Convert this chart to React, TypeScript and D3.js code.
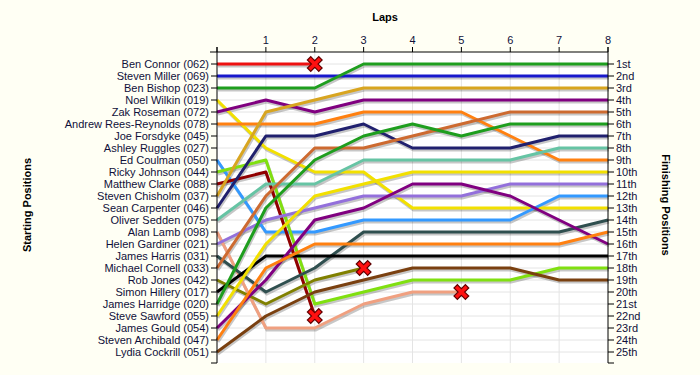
import React from "react";
import * as d3 from "d3";

const drivers = [
  "Ben Connor (062)", "Steven Miller (069)", "Ben Bishop (023)", "Noel Wilkin (019)",
  "Zak Roseman (072)", "Andrew Rees-Reynolds (078)", "Joe Forsdyke (045)", "Ashley Ruggles (027)",
  "Ed Coulman (050)", "Ricky Johnson (044)", "Matthew Clarke (088)", "Steven Chisholm (037)",
  "Sean Carpenter (046)", "Oliver Sedden (075)", "Alan Lamb (098)", "Helen Gardiner (021)",
  "James Harris (031)", "Michael Cornell (033)", "Rob Jones (042)", "Simon Hillery (017)",
  "James Harridge (020)", "Steve Sawford (055)", "James Gould (054)", "Steven Archibald (047)",
  "Lydia Cockrill (051)",
];

const finishLabels = [
  "1st", "2nd", "3rd", "4th", "5th", "6th", "7th", "8th", "9th", "10th", "11th", "12th", "13th",
  "14th", "15th", "16th", "17th", "18th", "19th", "20th", "21st", "22nd", "23rd", "24th", "25th",
];

const laps = [0, 1, 2, 3, 4, 5, 6, 7, 8];
const lapLabels = ["", "1", "2", "3", "4", "5", "6", "7", "8"];

// position at each lap (index = lap); shorter arrays = retired
const positions: (number[] | null)[] = [
  [1, 1, 1],                         // Ben Connor - retired
  [2, 2, 2, 2, 2, 2, 2, 2, 2],       // Steven Miller
  [3, 3, 3, 1, 1, 1, 1, 1, 1],       // Ben Bishop
  [4, 8, 10, 10, 13, 13, 13, 13, 13],// Noel Wilkin
  [5, 4, 5, 4, 4, 4, 4, 4, 4],       // Zak Roseman
  [6, 6, 6, 5, 5, 5, 7, 9, 9],       // Andrew Rees-Reynolds
  null,                              // Joe Forsdyke
  null,                              // Ashley Ruggles
  [9, 15, 15, 14, 14, 14, 14, 12, 12], // Ed Coulman
  [10, 9, 21, 20, 19, 19, 19, 18, 18], // Ricky Johnson
  [11, 10, 22],                      // Matthew Clarke - retired
  [12, 5, 4, 3, 3, 3, 3, 3, 3],      // Steven Chisholm
  [13, 7, 7, 6, 8, 8, 8, 7, 7],      // Sean Carpenter
  [14, 11, 11, 9, 9, 9, 9, 8, 8],    // Oliver Sedden
  [15, 23, 23, 21, 20, 20],          // Alan Lamb - retired
  [16, 14, 13, 12, 12, 12, 11, 11, 11], // Helen Gardiner
  [17, 20, 18, 15, 15, 15, 15, 15, 14], // James Harris
  [18, 12, 8, 8, 7, 6, 5, 5, 5],     // Michael Cornell
  [19, 21, 19, 18],                  // Rob Jones - retired
  [20, 17, 17, 17, 17, 17, 17, 17, 17], // Simon Hillery
  [21, 13, 9, 7, 6, 7, 6, 6, 6],     // James Harridge
  [22, 16, 12, 11, 10, 10, 10, 10, 10], // Steve Sawford
  [23, 19, 14, 13, 11, 11, 12, 14, 16], // James Gould
  [24, 18, 16, 16, 16, 16, 16, 16, 15], // Steven Archibald
  [25, 22, 20, 19, 18, 18, 18, 19, 19], // Lydia Cockrill
];

const retiredFlags = [true, false, false, false, false, false, false, false, false, false, true, false,
  false, false, true, false, false, false, true, false, false, false, false, false, false];

const colors = [
  "#ee1111", "#1818cc", "#1e9e1e", "#f2e000", "#800080", "#ff8010", "#000000", "#000000",
  "#3399ff", "#80e010", "#900000", "#d8a520", "#20206e", "#66c4a4", "#f0a080", "#9370db",
  "#2f4f4f", "#cd6a30", "#808000", "#000000", "#1e9e1e", "#f2e000", "#800080", "#ff8010",
  "#7a4010",
];

const W = 700, H = 375;
const x = d3.scaleLinear().domain([0, 8]).range([217, 608]);
const y = d3.scaleLinear().domain([1, 25]).range([64, 352]);
const TOP = 52, BOTTOM = 363;
const FONT = "'Liberation Sans', Arial, sans-serif";
const TXT = "#10103a";

export default function App() {
  const line = d3.line<[number, number]>().x(d => x(d[0])).y(d => y(d[1]));
  const rows = d3.range(1, 26);

  return (
    <svg width={W} height={H} style={{ position: "absolute", left: 0, top: 0, background: "#fffff4" }}
      fontFamily={FONT}>
      <rect x={0} y={0} width={W} height={H} fill="#fffff4" />
      <rect x={x(0)} y={TOP} width={x(8) - x(0)} height={BOTTOM - TOP} fill="#ffffff" />
      {/* grid */}
      {rows.map(r => (
        <line key={"h" + r} x1={x(0)} x2={x(8)} y1={y(r)} y2={y(r)} stroke="#e4e4e4" strokeWidth={1} />
      ))}
      {laps.slice(1, 8).map(l => (
        <line key={"v" + l} x1={x(l)} x2={x(l)} y1={TOP} y2={BOTTOM} stroke="#e4e4e4" strokeWidth={1} />
      ))}
      {/* shadows */}
      {positions.map((p, i) => p && (
        <path key={"s" + i} d={line(p.map((v, k) => [k, v] as [number, number])) || ""}
          transform="translate(1,2)" fill="none" stroke="rgba(0,0,0,0.22)" strokeWidth={3} />
      ))}
      {/* lines */}
      {positions.map((p, i) => p && (
        <path key={"l" + i} d={line(p.map((v, k) => [k, v] as [number, number])) || ""}
          fill="none" stroke={colors[i]} strokeWidth={3} strokeLinejoin="round" />
      ))}
      {/* retirement markers */}
      {positions.map((p, i) => {
        if (!p || !retiredFlags[i]) return null;
        const cx = x(p.length - 1), cy = y(p[p.length - 1]);
        const s = 4;
        const d = `M${cx - s},${cy - s}L${cx + s},${cy + s}M${cx - s},${cy + s}L${cx + s},${cy - s}`;
        return (
          <g key={"x" + i}>
            <path d={d} stroke="#600000" strokeWidth={6} strokeLinecap="square" />
            <path d={d} stroke="#ff1010" strokeWidth={3.6} strokeLinecap="square" />
          </g>
        );
      })}
      {/* top axis */}
      <line x1={210} x2={x(8)} y1={TOP} y2={TOP} stroke="#000" />
      {laps.map(l => (
        <g key={"t" + l}>
          <line x1={x(l)} x2={x(l)} y1={TOP - 5} y2={TOP} stroke="#000" />
          <text x={x(l)} y={TOP - 8} textAnchor="middle" fontSize={11} fill={TXT}>{lapLabels[l]}</text>
        </g>
      ))}
      {/* left axis */}
      <line x1={x(0)} x2={x(0)} y1={TOP - 5} y2={BOTTOM} stroke="#000" />
      {rows.map(r => (
        <g key={"la" + r}>
          <line x1={x(0) - 6} x2={x(0)} y1={y(r)} y2={y(r)} stroke="#000" />
          <text x={x(0) - 8} y={y(r) + 4} textAnchor="end" fontSize={11} fill={TXT}>{drivers[r - 1]}</text>
        </g>
      ))}
      <line x1={x(0) - 6} x2={x(0)} y1={BOTTOM} y2={BOTTOM} stroke="#000" />
      {/* right axis */}
      <line x1={x(8)} x2={x(8)} y1={TOP - 5} y2={BOTTOM} stroke="#000" />
      {rows.map(r => (
        <g key={"ra" + r}>
          <line x1={x(8)} x2={x(8) + 6} y1={y(r)} y2={y(r)} stroke="#000" />
          <text x={x(8) + 8} y={y(r) + 4} textAnchor="start" fontSize={11} fill={TXT}>{finishLabels[r - 1]}</text>
        </g>
      ))}
      <line x1={x(8)} x2={x(8) + 6} y1={BOTTOM} y2={BOTTOM} stroke="#000" />
      {/* titles */}
      <text x={385} y={21} textAnchor="middle" fontSize={11} fontWeight="bold" fill="#000">Laps</text>
      <text transform={`translate(31,205) rotate(-90)`} textAnchor="middle" fontSize={11} fontWeight="bold" fill="#000">Starting Positions</text>
      <text transform={`translate(662,205) rotate(90)`} textAnchor="middle" fontSize={11} fontWeight="bold" fill="#000">Finishing Positions</text>
    </svg>
  );
}
